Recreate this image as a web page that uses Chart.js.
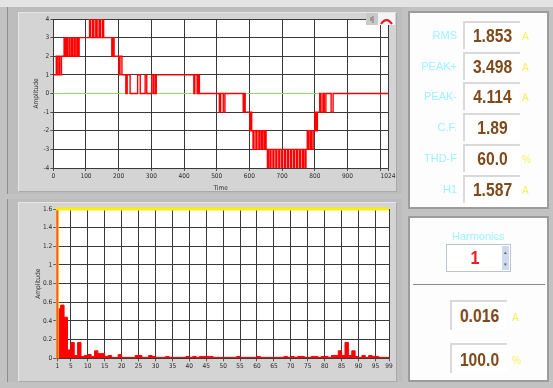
<!DOCTYPE html>
<html>
<head>
<meta charset="utf-8">
<script src="https://cdn.jsdelivr.net/npm/chart.js@4.4.1/dist/chart.umd.min.js"></script>
<style>
  html, body { margin: 0; padding: 0; }
  body { width: 553px; height: 388px; position: relative; overflow: hidden;
         background: #c2c2c2; font-family: Arial, "Liberation Sans", sans-serif; }
  .strip { position: absolute; left: 0; top: 0; width: 553px; height: 7px; background: #e4e4e4; }
  .gpanel { position: absolute; background: #bdbdbd; border-left: 1px solid #8e8e8e; }
  .ginner { position: absolute; background: #d4d4d4; border: 1px solid #e6e6e6; border-right-color: #a9a9a9; border-bottom-color: #a9a9a9; }
  canvas { position: absolute; }
  .wpanel { position: absolute; background: #fdfdfd; border: 2px solid #9c9c9c; box-sizing: border-box; }
  .lbl { position: absolute; color: #9ff2ff; font-size: 11px; text-align: right; width: 60px; line-height: 12px; }
  .vbox { position: absolute; width: 57px; height: 28px; box-sizing: border-box;
          border-top: 2px solid #d9d9d9; border-left: 2px solid #d9d9d9; background: #fff; }
  .val { position: absolute; left: 0; right: 0; text-align: center; color: #7e4a1c;
         font-weight: bold; font-size: 18px; line-height: 20px; transform: scaleX(0.87); }
  .unit { position: absolute; color: #f6f05a; font-size: 10px; line-height: 12px; }
  .icon1 { position: absolute; left: 366px; top: 13px; width: 12px; height: 12px; background: #c9c9c9;
           font-size: 7px; line-height: 12px; text-align: center; color: #333; }
  .icon2 { position: absolute; left: 378px; top: 13px; width: 17px; height: 12px; background: #f4f4f4; }
</style>
</head>
<body>
<div class="strip"></div>

<!-- waveform panel -->
<div class="gpanel" style="left:7px;top:7px;width:394px;height:187px;"></div>
<div class="ginner" style="left:18px;top:12px;width:377px;height:178px;"></div>
<!-- spectrum panel -->
<div class="gpanel" style="left:7px;top:199px;width:394px;height:183px;"></div>
<div class="ginner" style="left:18px;top:202px;width:377px;height:178px;"></div>

<canvas id="wave" width="393" height="187" style="left:7px;top:7px;"></canvas>
<canvas id="spec" width="393" height="182" style="left:7px;top:200px;"></canvas>

<div class="icon1">ı|</div>
<div class="icon2">
  <svg width="17" height="12"><path d="M3 9 Q8.5 1 14 9" stroke="#e8141c" stroke-width="2" fill="none"/></svg>
</div>

<!-- measurement panel -->
<div class="wpanel" style="left:408px;top:11px;width:141px;height:198px;"></div>
<div id="meas"></div>

<!-- harmonic selector panel -->
<div class="wpanel" style="left:408px;top:216px;width:141px;height:166px;"></div>
<div style="position:absolute;left:430px;top:230px;width:96px;text-align:center;color:#9ff2ff;font-size:11px;line-height:12px;">Harmonics</div>
<div style="position:absolute;left:446px;top:244px;width:65px;height:28px;box-sizing:border-box;border:1px solid #b9c4d4;background:#fff;">
  <div id="harmNo" style="position:absolute;left:0;width:56px;top:3px;text-align:center;color:#ee1c2a;font-size:18px;font-weight:bold;line-height:20px;transform:scaleX(0.9);"></div>
  <div style="position:absolute;right:1px;top:1px;width:7px;height:24px;background:#cdd9ee;font-size:5px;line-height:12px;text-align:center;color:#556;">▴<br>▾</div>
</div>
<div style="position:absolute;left:413px;top:284px;width:132px;height:1px;background:#8a8a8a;"></div>
<div id="harmOut"></div>

<script>
// Waveform (current samples): level changes as [time, level]
const stepTimes  = [0, 9, 12, 17, 20, 25, 33, 36, 40, 43, 48, 51, 56, 59, 64, 67, 72, 75, 79,
  111, 114, 120, 124, 130, 134, 140, 144, 150, 154,
  179, 182, 186, 201, 204, 210, 222, 226, 235, 258, 266, 281, 286, 301, 306, 311, 313, 315,
  430, 433, 440, 444, 447, 508, 512, 520, 525,
  581, 584, 587, 601, 604, 607, 611, 614, 620, 623, 629, 632, 637, 640, 645, 648, 651,
  655, 658, 663, 666, 672, 675, 681, 684, 690, 693, 699, 702, 708, 711, 717, 720, 726, 729,
  735, 738, 744, 747, 753, 756, 762, 765, 770, 773,
  777, 781, 786, 790, 795, 800, 804, 808, 815, 819, 825, 829, 834, 850, 856, 1024];
const stepLevels = [1, 2, 1, 2, 1, 2, 3, 2, 3, 2, 3, 2, 3, 2, 3, 2, 3, 2, 3,
  4, 3, 4, 3, 4, 3, 4, 3, 4, 3,
  2, 3, 2, 1, 2, 1, 0, 1, 0, 1, 0, 1, 0, 1, 0, 1, 0, 1,
  0, 1, 0, 1, 0, -1, 0, -1, 0,
  -1, 0, -1, -2, -1, -2, -3, -2, -3, -2, -3, -2, -3, -2, -3, -2, -3,
  -4, -3, -4, -3, -4, -3, -4, -3, -4, -3, -4, -3, -4, -3, -4, -3, -4, -3,
  -4, -3, -4, -3, -4, -3, -4, -3, -4, -3,
  -2, -3, -2, -3, -2, -1, -2, -1, 0, -1, 0, -1, 0, -1, 0, 0];
const timeTicks      = [0, 100, 200, 300, 400, 500, 600, 700, 800, 900, 1000, 1024];
const timeTickLabels = ['0', '100', '200', '300', '400', '500', '600', '700', '800', '900', '', '1024'];

// Harmonic spectrum: amplitude of bins 1..98 (each bin held to the next)
const harmonicAmps = [
  0.53, 0.57, 0.44, 0.09, 0.17, 0.03, 0.17, 0.02, 0.03, 0.04,
  0.02, 0.08, 0.05, 0.05, 0.02, 0.03, 0.01, 0.01, 0.04, 0.01,
  0.01, 0.01, 0.01, 0.03, 0.03, 0.01, 0.01, 0.03, 0.02, 0.01,
  0.01, 0.01, 0.02, 0.01, 0.01, 0.01, 0.01, 0.01, 0.02, 0.01,
  0.02, 0.01, 0.02, 0.02, 0.02, 0.02, 0.01, 0.01, 0.01, 0.01,
  0.01, 0.01, 0.01, 0.02, 0.01, 0.01, 0.01, 0.01, 0.01, 0.02,
  0.01, 0.01, 0.01, 0.01, 0.01, 0.01, 0.01, 0.02, 0.01, 0.02,
  0.01, 0.02, 0.02, 0.01, 0.01, 0.02, 0.02, 0.01, 0.02, 0.02,
  0.01, 0.03, 0.03, 0.08, 0.03, 0.17, 0.03, 0.08, 0.02, 0.01,
  0.03, 0.01, 0.03, 0.02, 0.02, 0.01, 0.01, 0.01];
const fundamentalAmp = 1.587;
const spectrumLimit = 1.6;
const harmonicTicks = [1, 5, 10, 15, 20, 25, 30, 35, 40, 45, 50, 55, 60, 65, 70, 75, 80, 85, 90, 95, 99];
const ampTicks = [0, 0.2, 0.4, 0.6, 0.8, 1, 1.2, 1.4, 1.6];

// Readouts
const measNames  = ['RMS', 'PEAK+', 'PEAK-', 'C.F.', 'THD-F', 'H1'];
const measValues = ['1.853', '3.498', '4.114', '1.89', '60.0', '1.587'];
const measUnits  = ['A', 'A', 'A', '', '%', 'A'];
const selectedHarmonic = 1;
const harmonicValue = '0.016';
const harmonicPct = '100.0';

// build readout rows
(function () {
  const host = document.getElementById('meas');
  let html = '';
  measNames.forEach((n, i) => {
    const top = 20.7 + i * 30.85;
    html += `<div class="lbl" style="left:397px;top:${top + 8}px;">${n}</div>`;
    html += `<div class="vbox" style="left:463px;top:${top}px;"><div class="val" style="top:3px;">${measValues[i]}</div></div>`;
    if (measUnits[i]) html += `<div class="unit" style="left:522px;top:${top + 10}px;">${measUnits[i]}</div>`;
  });
  host.innerHTML = html;
  document.getElementById('harmNo').textContent = selectedHarmonic;
  const out = document.getElementById('harmOut');
  out.innerHTML =
    `<div class="vbox" style="left:450px;top:300px;width:57px;height:30px;"><div class="val" style="top:4px;">${harmonicValue}</div></div>` +
    `<div class="unit" style="left:512px;top:312px;">A</div>` +
    `<div class="vbox" style="left:450px;top:343px;width:57px;height:30px;"><div class="val" style="top:5px;">${harmonicPct}</div></div>` +
    `<div class="unit" style="left:512px;top:355px;">%</div>`;
})();

const tickFont = { family: '"Liberation Sans Narrow", "DejaVu Sans Condensed", Arial, sans-serif', size: 6.5 };
const tickColor = '#2c2c2c';
const gridColor = '#3a3a3a';
const plainLabel = v => String(Math.round(v * 10) / 10);

const plotBg = {
  id: 'plotBg',
  beforeDraw(chart) {
    const { ctx, chartArea: a } = chart;
    ctx.save();
    ctx.fillStyle = '#ffffff';
    ctx.fillRect(a.left, a.top, a.right - a.left, a.bottom - a.top);
    ctx.restore();
  }
};

const wavePts = stepTimes.map((t, i) => ({ x: t, y: stepLevels[i] }));

new Chart(document.getElementById('wave'), {
  type: 'line',
  data: {
    datasets: [
      { data: wavePts, borderColor: '#ff0000', borderWidth: 1.4, pointRadius: 0, stepped: 'before', order: 1 },
      { data: [{ x: 0, y: 0 }, { x: 1024, y: 0 }], borderColor: '#8ee066', borderWidth: 1, pointRadius: 0, order: 2 }
    ]
  },
  options: {
    responsive: false, animation: false, devicePixelRatio: 1,
    layout: { padding: { left: 0, top: 12, right: 12, bottom: 0 } },
    plugins: { legend: { display: false }, tooltip: { enabled: false } },
    scales: {
      x: {
        type: 'linear', min: 0, max: 1024,
        afterBuildTicks: s => { s.ticks = timeTicks.map(v => ({ value: v })); },
        afterFit: s => { s.height = 26; },
        grid: { color: gridColor, lineWidth: 1, tickLength: 3, tickColor: '#555' },
        border: { display: false },
        ticks: { font: tickFont, color: tickColor, padding: 1, maxRotation: 0, autoSkip: false,
                 callback: (v, i) => timeTickLabels[i] },
        title: { display: true, text: 'Time', font: tickFont, color: tickColor, padding: { top: 0, bottom: 2 } }
      },
      y: {
        min: -4, max: 4,
        ticks: { stepSize: 1, font: tickFont, color: tickColor, padding: 1, callback: plainLabel },
        afterFit: s => { s.width = 46.3; },
        grid: { color: gridColor, lineWidth: 1, tickLength: 3, tickColor: '#555' },
        border: { display: false },
        title: { display: true, text: 'Amplitude', font: tickFont, color: tickColor, padding: { top: 25, bottom: 0 } }
      }
    }
  },
  plugins: [plotBg]
});

const specPts = harmonicAmps.map((v, i) => ({ x: i + 1, y: v }));
specPts.push({ x: 99, y: harmonicAmps[harmonicAmps.length - 1] });

new Chart(document.getElementById('spec'), {
  type: 'line',
  data: {
    datasets: [
      { data: [{ x: 1, y: 0 }, { x: 1, y: fundamentalAmp }],
        borderColor: '#ff5530', borderWidth: 2, pointRadius: 0, clip: false, order: 1 },
      { data: [{ x: 1, y: 0 }, { x: 1, y: spectrumLimit }, { x: 99, y: spectrumLimit }],
        borderColor: '#ffee00', borderWidth: 3, pointRadius: 0, clip: false, order: 2 },
      { data: specPts, borderColor: '#ff0000', backgroundColor: '#ff0000', borderWidth: 1,
        pointRadius: 0, stepped: 'before', fill: 'origin', order: 3 }
    ]
  },
  options: {
    responsive: false, animation: false, devicePixelRatio: 1,
    layout: { padding: { left: 0, top: 9, right: 11, bottom: 0 } },
    plugins: { legend: { display: false }, tooltip: { enabled: false } },
    scales: {
      x: {
        type: 'linear', min: 1, max: 99,
        afterBuildTicks: s => { s.ticks = harmonicTicks.map(v => ({ value: v })); },
        afterFit: s => { s.height = 23.7; },
        grid: { color: gridColor, lineWidth: 1, tickLength: 3, tickColor: '#555' },
        border: { display: false },
        ticks: { font: tickFont, color: tickColor, padding: 1, maxRotation: 0, autoSkip: false, callback: plainLabel }
      },
      y: {
        min: 0, max: 1.6,
        afterBuildTicks: s => { s.ticks = ampTicks.map(v => ({ value: v })); },
        ticks: { font: tickFont, color: tickColor, padding: 1, callback: plainLabel },
        afterFit: s => { s.width = 50.3; },
        grid: { color: gridColor, lineWidth: 1, tickLength: 4, tickColor: '#555' },
        border: { display: false },
        title: { display: true, text: 'Amplitude', font: tickFont, color: tickColor, padding: { top: 27, bottom: 0 } }
      }
    }
  },
  plugins: [plotBg]
});
</script>
</body>
</html>
